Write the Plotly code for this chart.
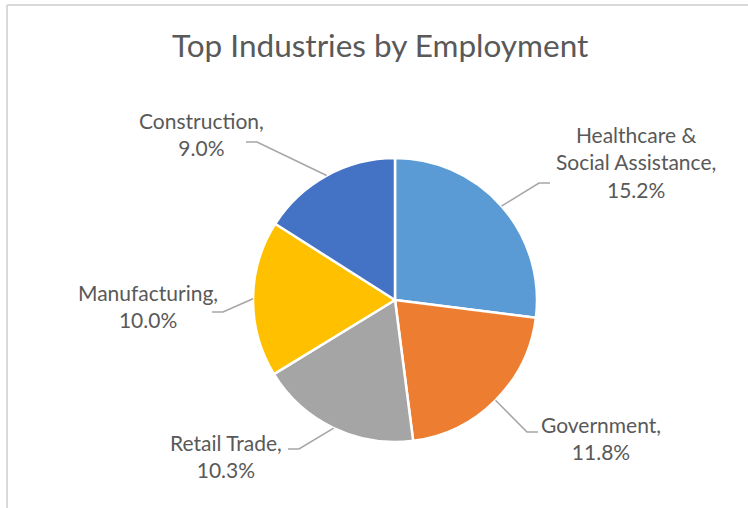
import math
import plotly.graph_objects as go

# Share of total employment by industry (%)
industries = ["Healthcare &<br>Social Assistance", "Government", "Retail Trade",
              "Manufacturing", "Construction"]
shares = [15.2, 11.8, 10.3, 10.0, 9.0]
colors = ["#5B9BD5", "#ED7D31", "#A5A5A5", "#FFC000", "#4472C4"]

TITLE = "Top Industries by Employment"
FONT = "Lato"
TEXT_COLOR = "#595959"
LEADER_COLOR = "#A6A6A6"

W, H = 748, 508
CX, CY, R = 395, 300, 142          # pie centre / radius in pixels

# data-label block centres and the outer end of each leader line (pixels)
label_xy = [(636, 162), (601, 438), (226, 456), (148, 306), (201, 134)]
leader_end = [(550, 183), (538, 432), (288, 449), (212, 312), (246, 142)]
STUB = 11                           # horizontal part of each leader line


def px(x, y):
    return x / W, 1 - y / H


fig = go.Figure(go.Pie(
    labels=industries,
    values=shares,
    sort=False,
    direction="clockwise",
    rotation=0,
    textinfo="none",
    hoverinfo="label+value",
    marker=dict(colors=colors, line=dict(color="white", width=2.5)),
    showlegend=False,
    domain=dict(x=[(CX - R) / W, (CX + R) / W],
                y=[1 - (CY + R) / H, 1 - (CY - R) / H]),
))

shapes = []
annotations = []
total = sum(shares)
start = 0.0
for name, val, (lx, ly), (ex, ey) in zip(industries, shares, label_xy, leader_end):
    mid = (start + val / 2) / total * 2 * math.pi
    start += val
    ax = CX + R * math.sin(mid)
    ay = CY - R * math.cos(mid)
    side = 1 if ax > ex else -1
    kx, ky = ex + side * STUB, ey
    p0, p1, p2 = px(ax, ay), px(kx, ky), px(ex, ey)
    shapes.append(dict(
        type="path", xref="paper", yref="paper",
        path=f"M {p0[0]} {p0[1]} L {p1[0]} {p1[1]} L {p2[0]} {p2[1]}",
        line=dict(color=LEADER_COLOR, width=1.6),
    ))
    x, y = px(lx, ly)
    annotations.append(dict(
        x=x, y=y, xref="paper", yref="paper", xanchor="center", yanchor="middle",
        text=f"{name},<br>{val:.1f}%", showarrow=False, align="center",
        font=dict(family=FONT, size=21, color=TEXT_COLOR),
    ))

# chart title
tx, ty = px(380, 45)
annotations.append(dict(
    x=tx, y=ty, xref="paper", yref="paper", xanchor="center", yanchor="middle",
    text=TITLE, showarrow=False,
    font=dict(family=FONT, size=31.5, color=TEXT_COLOR),
))

# chart-area border (top and left edges)
fx0, fy0 = px(7, 5)
shapes.append(dict(type="line", xref="paper", yref="paper",
                   x0=fx0, y0=fy0, x1=1, y1=fy0,
                   line=dict(color="#D9D9D9", width=2)))
shapes.append(dict(type="line", xref="paper", yref="paper",
                   x0=fx0, y0=fy0, x1=fx0, y1=0,
                   line=dict(color="#D9D9D9", width=2)))

fig.update_layout(
    width=W, height=H,
    margin=dict(l=0, r=0, t=0, b=0),
    paper_bgcolor="white",
    plot_bgcolor="white",
    shapes=shapes,
    annotations=annotations,
)

fig.write_html("out.html")
